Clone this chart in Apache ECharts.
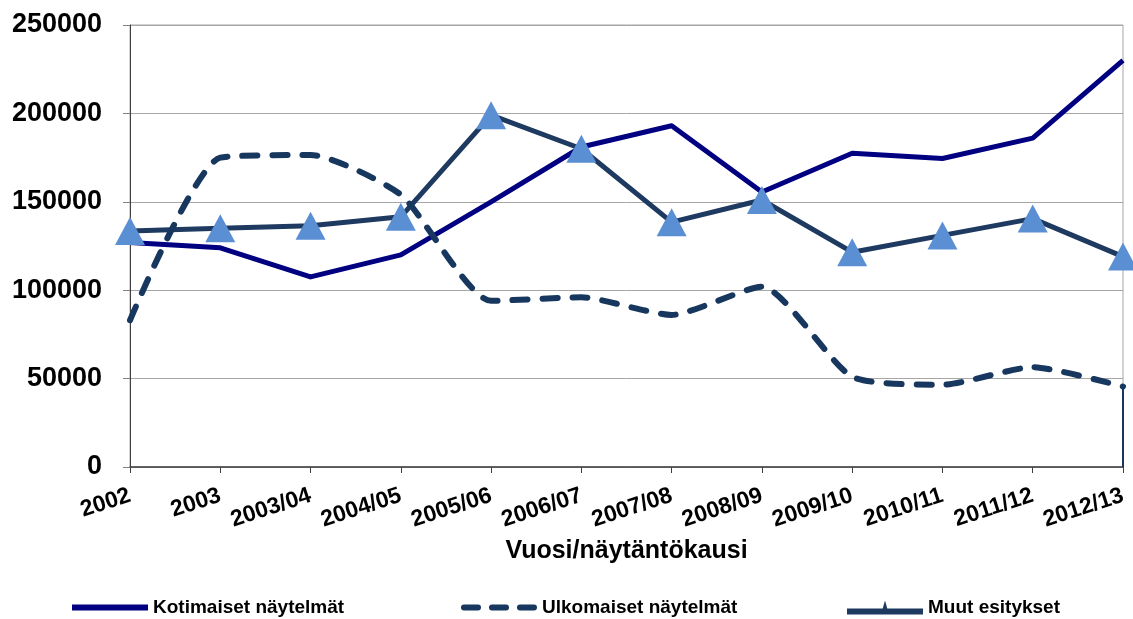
<!DOCTYPE html>
<html>
<head>
<meta charset="utf-8">
<script src="https://cdn.jsdelivr.net/npm/echarts@6/dist/echarts.min.js"></script>
<style>
  html, body { margin: 0; padding: 0; background: #fff; }
  #chart { width: 1133px; height: 619px; }
</style>
</head>
<body>
<div id="chart"></div>
<script>
// Kaudet (vuosi / näytäntökausi)
const categories = ['2002', '2003', '2003/04', '2004/05', '2005/06', '2006/07',
  '2007/08', '2008/09', '2009/10', '2010/11', '2011/12', '2012/13'];

// Katsojamäärät sarjoittain
const kotimaiset = [127000, 124000, 107500, 120000, 150000, 181000,
  193000, 155500, 177500, 174500, 186000, 230000];
const ulkomaiset = [83000, 175000, 176500, 154000, 94000, 96000,
  86000, 102000, 51000, 46500, 56500, 45500];
const muut = [133500, 135000, 136500, 141500, 199000, 180000,
  138500, 151000, 121500, 131000, 140500, 119000];

const yTicks = [0, 50000, 100000, 150000, 200000, 250000];

const seriesNames = ['Kotimaiset näytelmät', 'Ulkomaiset näytelmät', 'Muut esitykset'];
const fontFamily = '"Liberation Sans", Arial, sans-serif';

const colors = { koti: '#000080', ulko: '#17375e', muut: '#1f3a60', triangle: '#5b8fd4' };

// Legend icons: solid bar, three dashes, bar with a small triangle
const icons = {
  koti: 'path://M0,0h76v6h-76z',
  ulko: 'path://M3,0h14a3,3 0 0 1 0,6h-14a3,3 0 0 1 0,-6z M31,0h14a3,3 0 0 1 0,6h-14a3,3 0 0 1 0,-6z M59,0h14a3,3 0 0 1 0,6h-14a3,3 0 0 1 0,-6z',
  muut: 'path://M0,8h76v6h-76z M38,0L42,14h-8z'
};

const chart = echarts.init(document.getElementById('chart'), null, { renderer: 'canvas' });

function legendAt(name, icon, color, height, left) {
  return {
    data: [{ name: name, icon: icon, itemStyle: { color: color } }],
    left: left,
    top: 598,
    padding: 0,
    itemWidth: 76,
    itemHeight: height,
    itemGap: 4,
    textStyle: { fontFamily: fontFamily, fontWeight: 'bold', fontSize: 19, color: '#000' },
    selectedMode: false
  };
}

chart.setOption({
  animation: false,
  backgroundColor: '#ffffff',
  grid: {
    left: 130, right: 10, top: 25, bottom: 152,
    show: true, borderColor: '#a6a6a6', borderWidth: 1
  },
  legend: [
    legendAt(seriesNames[0], icons.koti, colors.koti, 6, 72),
    legendAt(seriesNames[1], icons.ulko, colors.ulko, 6, 461),
    legendAt(seriesNames[2], icons.muut, colors.muut, 14, 847)
  ],
  xAxis: {
    type: 'category',
    data: categories,
    boundaryGap: false,
    name: 'Vuosi/näytäntökausi',
    nameLocation: 'middle',
    nameGap: 72,
    nameTextStyle: { fontFamily: fontFamily, fontWeight: 'bold', fontSize: 25, color: '#000' },
    axisLine: { lineStyle: { color: '#404040', width: 1.5 } },
    axisTick: { alignWithLabel: true, length: 6, lineStyle: { color: '#404040' } },
    axisLabel: {
      rotate: 18, margin: 28, interval: 0,
      fontFamily: fontFamily, fontWeight: 'bold', fontSize: 23, color: '#000'
    },
    splitLine: { show: false }
  },
  yAxis: {
    type: 'value',
    min: yTicks[0],
    max: yTicks[yTicks.length - 1],
    interval: yTicks[1] - yTicks[0],
    axisLine: { show: true, lineStyle: { color: '#404040', width: 1 } },
    axisTick: { show: true, length: 7, lineStyle: { color: '#808080' } },
    axisLabel: {
      margin: 28,
      formatter: function (v) { return String(v); },
      fontFamily: fontFamily, fontWeight: 'bold', fontSize: 27, color: '#000'
    },
    splitLine: { lineStyle: { color: '#a6a6a6', width: 1 } }
  },
  series: [
    {
      name: seriesNames[0],
      type: 'line',
      data: kotimaiset,
      z: 2,
      symbol: 'none',
      lineStyle: { color: colors.koti, width: 5, join: 'round' },
      itemStyle: { color: colors.koti }
    },
    {
      name: seriesNames[2],
      type: 'line',
      data: muut,
      z: 3,
      symbol: 'triangle',
      symbolSize: [30, 28],
      showAllSymbol: true,
      lineStyle: { color: colors.muut, width: 5, join: 'round' },
      itemStyle: { color: colors.triangle, borderWidth: 0 }
    },
    {
      name: seriesNames[1],
      type: 'line',
      data: ulkomaiset,
      z: 4,
      smooth: 0.2,
      symbol: 'none',
      lineStyle: { color: colors.ulko, width: 6, type: [15, 15], cap: 'round' },
      itemStyle: { color: colors.ulko },
      markLine: {
        silent: true,
        symbol: 'none',
        label: { show: false },
        lineStyle: { color: colors.ulko, width: 2, type: 'solid' },
        data: [[
          { coord: [categories[categories.length - 1], 0] },
          { coord: [categories[categories.length - 1], ulkomaiset[ulkomaiset.length - 1]] }
        ]]
      }
    }
  ]
});
</script>
</body>
</html>
